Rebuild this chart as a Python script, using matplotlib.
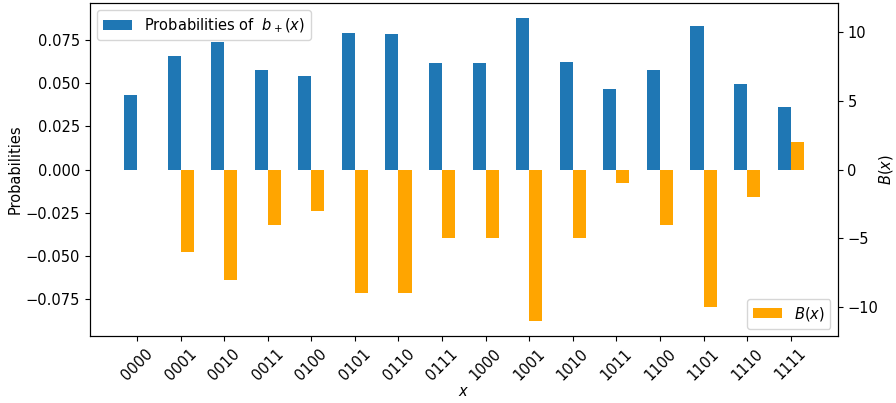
import numpy as np
import matplotlib
matplotlib.use("Agg")
import matplotlib.pyplot as plt

etats = ["0000", "0001", "0010", "0011", "0100", "0101", "0110", "0111",
         "1000", "1001", "1010", "1011", "1100", "1101", "1110", "1111"]
probas = [0.0429, 0.0655, 0.0736, 0.0573, 0.0538, 0.0788, 0.0782, 0.0614,
          0.0614, 0.0875, 0.0620, 0.0464, 0.0573, 0.0829, 0.0493, 0.0360]
valeursB = [0, -6, -8, -4, -3, -9, -9, -5, -5, -11, -5, -1, -4, -10, -2, 2]

plt.rcParams["font.size"] = 10.5

x = np.arange(len(etats))
largeur = 0.3

fig, ax = plt.subplots(figsize=(8.96, 4.03), dpi=100)
ax.bar(x - largeur / 2, probas, largeur, color="#1f77b4", label="Probabilities of  $b_+(x)$")
ax.set_ylabel("Probabilities", labelpad=2)
ax.set_xlabel("$x$", labelpad=1)
ax.set_xticks(x)
ax.set_xticklabels(etats, rotation=45)
m1 = max(abs(p) for p in probas) * 1.1
ax.set_ylim(-m1, m1)
ax.legend(loc="upper left")

ax2 = ax.twinx()
ax2.bar(x + largeur / 2, valeursB, largeur, color="orange", label="$B(x)$")
ax2.set_ylabel("$B(x)$", labelpad=-1)
m2 = max(abs(b) for b in valeursB) * 1.1
ax2.set_ylim(-m2, m2)
ax2.legend(loc="lower right")

fig.subplots_adjust(left=0.1004, right=0.935, top=0.9926, bottom=0.166)
fig.savefig("out.png")
